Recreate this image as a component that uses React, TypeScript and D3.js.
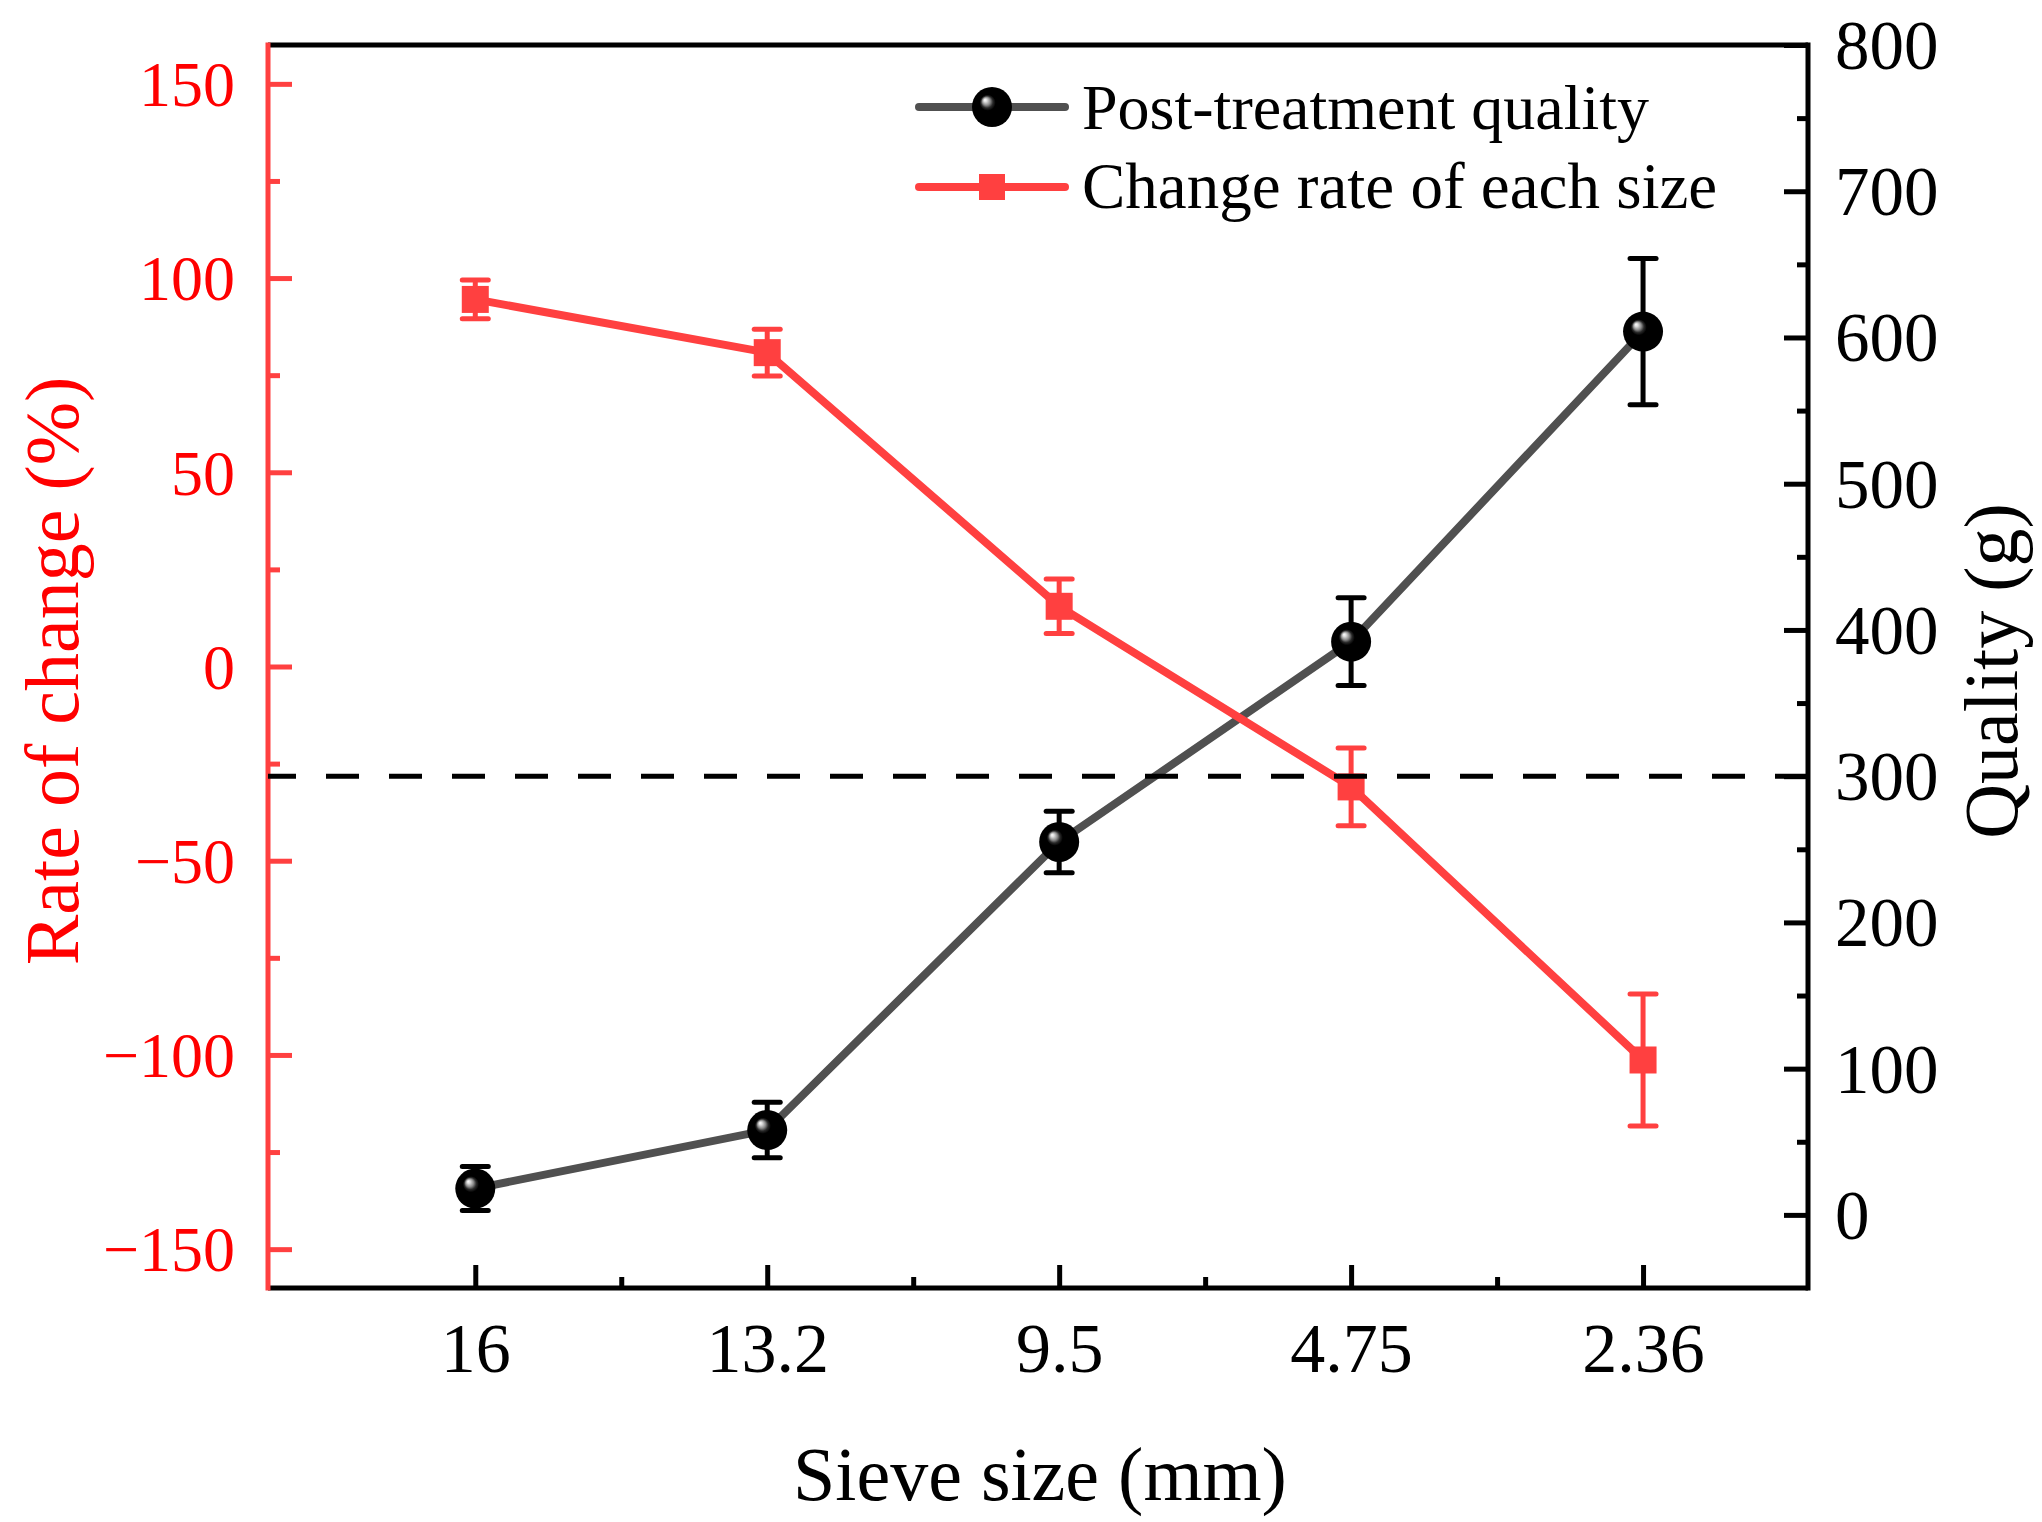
import React, { useEffect, useRef } from "react";
import * as d3 from "d3";

// sieve sizes on the x axis (mm), left to right
const sieveSizes = ["16", "13.2", "9.5", "4.75", "2.36"];

// post-treatment quality (g), right axis
const postQuality = [18, 58, 255, 392, 604];
const postQualityErr = [15, 19, 21, 30, 50];

// change rate of each size (%), left axis
const changeRate = [94.5, 80.8, 15.5, -31, -101.3];
const changeRateErr = [5, 6, 7, 10, 17];

const rateTicks = [-150, -100, -50, 0, 50, 100, 150];
const qualityTicks = [0, 100, 200, 300, 400, 500, 600, 700, 800];
const qualityLimit = 300;

const WIDTH = 2042;
const HEIGHT = 1522;
const FONT = '"Liberation Serif", "Times New Roman", Times, serif';
const RED = "#ff4040";
const GREY = "#505050";

const fmt = (d: number) => (d < 0 ? "\u2212" + Math.abs(d) : String(d));

const App: React.FC = () => {
  const svgRef = useRef<SVGSVGElement | null>(null);

  useEffect(() => {
    if (!svgRef.current) return;

    const margin = { top: 45, right: 234, bottom: 234, left: 268 };
    const innerW = WIDTH - margin.left - margin.right;
    const innerH = HEIGHT - margin.top - margin.bottom;

    const svg = d3.select(svgRef.current);
    svg.selectAll("*").remove();

    const defs = svg.append("defs");
    const ball = defs
      .append("radialGradient")
      .attr("id", "ball")
      .attr("cx", 0.5)
      .attr("cy", 0.5)
      .attr("r", 0.5)
      .attr("fx", 0.32)
      .attr("fy", 0.32);
    [
      [0, "#ffffff"],
      [0.08, "#dddddd"],
      [0.2, "#8a8a8a"],
      [0.3, "#2a2a2a"],
      [0.4, "#000000"],
      [1, "#000000"],
    ].forEach(([o, c]) => ball.append("stop").attr("offset", o as number).attr("stop-color", c as string));

    const g = svg.append("g").attr("transform", `translate(${margin.left},${margin.top})`);

    const idx = sieveSizes.map((_, i) => i + 1);
    const x = d3.scaleLinear().domain([0.29, 5.565]).range([0, innerW]);
    const yL = d3.scaleLinear().domain([-160, 160]).range([innerH, 0]);
    const yR = d3.scaleLinear().domain([-50, 800]).range([innerH, 0]);

    // frame
    g.append("line").attr("x1", 0).attr("x2", innerW).attr("y1", 0).attr("y2", 0).attr("stroke", "#000").attr("stroke-width", 5);
    g.append("line").attr("x1", 0).attr("x2", innerW).attr("y1", innerH).attr("y2", innerH).attr("stroke", "#000").attr("stroke-width", 5);
    g.append("line").attr("x1", innerW).attr("x2", innerW).attr("y1", -2.5).attr("y2", innerH + 2.5).attr("stroke", "#000").attr("stroke-width", 5);

    // left axis (red)
    const styleAxis = (sel: d3.Selection<SVGGElement, unknown, null, undefined>, color: string) => {
      sel.select(".domain").remove();
      sel.selectAll(".tick line").attr("stroke", color).attr("stroke-width", 5);
      sel.attr("font-family", FONT);
    };

    const leftMajor = g.append("g").call(d3.axisLeft(yL).tickValues(rateTicks).tickSize(-24).tickFormat((d) => fmt(+d)));
    styleAxis(leftMajor, RED);
    leftMajor
      .selectAll("text")
      .attr("x", -33)
      .attr("dy", "0.34em")
      .attr("fill", "#ff0000")
      .attr("font-size", 64);
    const leftMinor = g
      .append("g")
      .call(d3.axisLeft(yL).tickValues(d3.range(-125, 150, 50)).tickSize(-12).tickFormat(() => ""));
    styleAxis(leftMinor, RED);

    // right axis
    const rightMajor = g
      .append("g")
      .attr("transform", `translate(${innerW},0)`)
      .call(d3.axisRight(yR).tickValues(qualityTicks).tickSize(-24).tickFormat((d) => fmt(+d)));
    styleAxis(rightMajor, "#000");
    rightMajor
      .selectAll("text")
      .attr("x", 27)
      .attr("dy", "0.34em")
      .attr("fill", "#000")
      .attr("font-size", 69);
    const rightMinor = g
      .append("g")
      .attr("transform", `translate(${innerW},0)`)
      .call(d3.axisRight(yR).tickValues(d3.range(50, 800, 100)).tickSize(-11).tickFormat(() => ""));
    styleAxis(rightMinor, "#000");

    // bottom axis
    const bottomMajor = g
      .append("g")
      .attr("transform", `translate(0,${innerH})`)
      .call(d3.axisBottom(x).tickValues(idx).tickSize(-23).tickFormat((_, i) => sieveSizes[i]));
    styleAxis(bottomMajor, "#000");
    bottomMajor
      .selectAll("text")
      .attr("y", 84)
      .attr("dy", 0)
      .attr("fill", "#000")
      .attr("font-size", 70);
    const bottomMinor = g
      .append("g")
      .attr("transform", `translate(0,${innerH})`)
      .call(d3.axisBottom(x).tickValues([1.5, 2.5, 3.5, 4.5]).tickSize(-11).tickFormat(() => ""));
    styleAxis(bottomMinor, "#000");

    // left axis line on top of the frame
    g.append("line").attr("x1", 0).attr("x2", 0).attr("y1", -2.5).attr("y2", innerH + 2.5).attr("stroke", RED).attr("stroke-width", 5);

    const errorBars = (
      values: number[],
      errs: number[],
      y: d3.ScaleLinear<number, number>,
      color: string
    ) => {
      const eb = g.append("g").attr("stroke", color).attr("stroke-width", 5);
      values.forEach((v, i) => {
        const cx = x(i + 1);
        eb.append("line").attr("x1", cx).attr("x2", cx).attr("y1", y(v - errs[i])).attr("y2", y(v + errs[i]));
        [v - errs[i], v + errs[i]].forEach((e) =>
          eb
            .append("line")
            .attr("x1", cx - 13)
            .attr("x2", cx + 13)
            .attr("y1", y(e))
            .attr("y2", y(e))
            .attr("stroke-linecap", "round")
        );
      });
    };

    // post-treatment quality
    g.append("path")
      .datum(postQuality)
      .attr("fill", "none")
      .attr("stroke", GREY)
      .attr("stroke-width", 8)
      .attr(
        "d",
        d3
          .line<number>()
          .x((_, i) => x(i + 1))
          .y((d) => yR(d))
      );
    errorBars(postQuality, postQualityErr, yR, "#000");
    g.selectAll(".ball")
      .data(postQuality)
      .join("circle")
      .attr("class", "ball")
      .attr("cx", (_, i) => x(i + 1))
      .attr("cy", (d) => yR(d))
      .attr("r", 20)
      .attr("fill", "url(#ball)");

    // change rate
    g.append("path")
      .datum(changeRate)
      .attr("fill", "none")
      .attr("stroke", RED)
      .attr("stroke-width", 8)
      .attr(
        "d",
        d3
          .line<number>()
          .x((_, i) => x(i + 1))
          .y((d) => yL(d))
      );
    errorBars(changeRate, changeRateErr, yL, RED);
    g.selectAll(".sq")
      .data(changeRate)
      .join("rect")
      .attr("class", "sq")
      .attr("x", (_, i) => x(i + 1) - 13.5)
      .attr("y", (d) => yL(d) - 13.5)
      .attr("width", 27)
      .attr("height", 27)
      .attr("fill", RED);

    // 300 g reference line
    g.append("line")
      .attr("x1", 0)
      .attr("x2", innerW)
      .attr("y1", yR(qualityLimit))
      .attr("y2", yR(qualityLimit))
      .attr("stroke", "#000")
      .attr("stroke-width", 5)
      .attr("stroke-dasharray", "33 30")
      .attr("stroke-dashoffset", 5);

    // legend
    const legend = svg.append("g").attr("font-family", FONT);
    legend.append("line").attr("x1", 919).attr("x2", 1065).attr("y1", 107).attr("y2", 107).attr("stroke", GREY).attr("stroke-width", 8).attr("stroke-linecap", "round");
    legend.append("circle").attr("cx", 992).attr("cy", 107).attr("r", 20).attr("fill", "url(#ball)");
    legend.append("text").attr("x", 1082).attr("y", 129).attr("font-size", 64).text("Post-treatment quality");
    legend.append("line").attr("x1", 919).attr("x2", 1065).attr("y1", 187).attr("y2", 187).attr("stroke", RED).attr("stroke-width", 8).attr("stroke-linecap", "round");
    legend.append("rect").attr("x", 979).attr("y", 174).attr("width", 26).attr("height", 26).attr("fill", RED);
    legend.append("text").attr("x", 1082).attr("y", 208).attr("font-size", 65).text("Change rate of each size");

    // axis titles
    svg.append("text")
      .attr("transform", "translate(78,671) rotate(-90)")
      .attr("text-anchor", "middle")
      .attr("font-family", FONT)
      .attr("font-size", 76)
      .attr("fill", "#ff0000")
      .text("Rate of change (%)");
    svg.append("text")
      .attr("transform", "translate(2017,671) rotate(-90)")
      .attr("text-anchor", "middle")
      .attr("font-family", FONT)
      .attr("font-size", 76)
      .attr("fill", "#000")
      .text("Quality (g)");
    svg.append("text")
      .attr("x", 1040)
      .attr("y", 1500)
      .attr("text-anchor", "middle")
      .attr("font-family", FONT)
      .attr("font-size", 76)
      .attr("fill", "#000")
      .text("Sieve size (mm)");
  }, []);

  return (
    <svg
      ref={svgRef}
      width={WIDTH}
      height={HEIGHT}
      style={{ position: "absolute", left: 0, top: 0, background: "#fff" }}
    ></svg>
  );
};

export default App;
